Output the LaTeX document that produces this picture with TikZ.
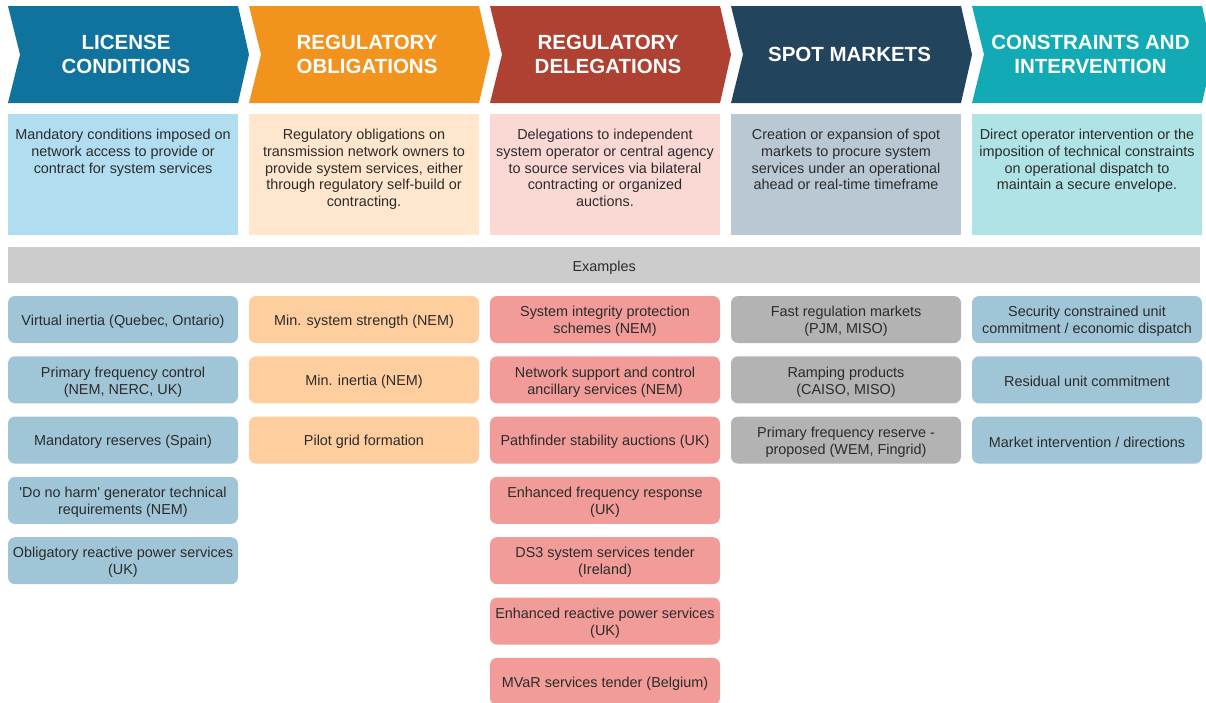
\documentclass[tikz,border=0pt]{standalone}
\usepackage{fontspec}
\setmainfont{Liberation Sans}
\definecolor{hA}{HTML}{10739E}
\definecolor{hB}{HTML}{F2931E}
\definecolor{hC}{HTML}{AE4132}
\definecolor{hD}{HTML}{23445D}
\definecolor{hE}{HTML}{12AAB5}
\definecolor{dA}{HTML}{B1DDF0}
\definecolor{dB}{HTML}{FFE6CC}
\definecolor{dC}{HTML}{FAD9D5}
\definecolor{dD}{HTML}{BAC8D3}
\definecolor{dE}{HTML}{B0E3E6}
\definecolor{eA}{HTML}{A0C5D6}
\definecolor{eB}{HTML}{FFCE9F}
\definecolor{eC}{HTML}{F19C99}
\definecolor{eD}{HTML}{B3B3B3}
\definecolor{bar}{HTML}{CCCCCC}
\definecolor{txt}{HTML}{2B2B2B}
\newcommand\mychev[2]{\fill[#2] (#1,6) -- ({#1+230},6) -- ({#1+241},54.5) -- ({#1+230},103) -- (#1,103) -- ({#1+12},54.5) -- cycle;}
\newcommand\exnode[5]{\node[exbox, fill=#4] (#1) at (#2,#3) {};
  \node[extext] (#1t) at ([yshift=-2pt]#1.center) {#5};}
\tikzset{
 htext/.style={text=white, font=\fontsize{20.5}{24.5}\selectfont\bfseries, align=center, inner sep=0pt},
 dbox/.style={anchor=north west, minimum width=230pt, minimum height=121pt, inner sep=0pt, outer sep=0pt},
 dtext/.style={anchor=north, align=center, inner sep=0pt, text=txt, font=\fontsize{14.4}{16.7}\selectfont},
 exbox/.style={anchor=north west, minimum width=230pt, minimum height=47pt, rounded corners=7pt, inner sep=0pt, outer sep=0pt},
 extext/.style={align=center, inner sep=0pt, text=txt, font=\fontsize{14.4}{17}\selectfont},
}
\begin{document}
\begin{tikzpicture}[x=1pt,y=-1pt]
\useasboundingbox (0,0) rectangle (1206,702);
\clip (0,0) rectangle (1206,702);
\fill[white] (0,0) rectangle (1206,702);
% headers
\mychev{8}{hA}
\mychev{249}{hB}
\mychev{490}{hC}
\mychev{731}{hD}
\mychev{972}{hE}
\node[htext] (h1) at (126,54.5) {LICENSE\\CONDITIONS};
\node[htext] (h2) at (367,54.5) {REGULATORY\\OBLIGATIONS};
\node[htext] (h3) at (608,54.5) {REGULATORY\\DELEGATIONS};
\node[htext] (h4) at (849.5,54.5) {SPOT MARKETS};
\node[htext] (h5) at (1090.5,54.5) {CONSTRAINTS AND\\INTERVENTION};
% descriptions
\node[dbox, fill=dA] (d1) at (8,114) {};
\node[dbox, fill=dB] (d2) at (249,114) {};
\node[dbox, fill=dC] (d3) at (490,114) {};
\node[dbox, fill=dD] (d4) at (731,114) {};
\node[dbox, fill=dE] (d5) at (972,114) {};
\node[dtext] (t1) at (123,129) {Mandatory conditions imposed on\\network access to provide or\\contract for system services};
\node[dtext] (t2) at (364,129) {Regulatory obligations on\\transmission network owners to\\provide system services, either\\through regulatory self-build or\\contracting.};
\node[dtext] (t3) at (605,129) {Delegations to independent\\system operator or central agency\\to source services via bilateral\\contracting or organized\\auctions.};
\node[dtext] (t4) at (846,129) {Creation or expansion of spot\\markets to procure system\\services under an operational\\ahead or real-time timeframe};
\node[dtext] (t5) at (1087,129) {Direct operator intervention or the\\imposition of technical constraints\\on operational dispatch to\\maintain a secure envelope.};
% examples bar
\node[anchor=north west, fill=bar, minimum width=1192pt, minimum height=36pt, inner sep=0pt] (ex) at (8,247) {};
\node[extext] (ext) at ([yshift=-3pt]ex.center) {Examples};
% column 1
\exnode{a1}{8}{296}{eA}{Virtual inertia (Quebec, Ontario)}
\exnode{a2}{8}{356.3}{eA}{Primary frequency control\\(NEM, NERC, UK)}
\exnode{a3}{8}{416.6}{eA}{Mandatory reserves (Spain)}
\exnode{a4}{8}{476.9}{eA}{\textquotesingle Do no harm\textquotesingle\ generator technical\\requirements (NEM)}
\exnode{a5}{8}{537.2}{eA}{Obligatory reactive power services\\(UK)}
% column 2
\exnode{b1}{249}{296}{eB}{Min. system strength (NEM)}
\exnode{b2}{249}{356.3}{eB}{Min. inertia (NEM)}
\exnode{b3}{249}{416.6}{eB}{Pilot grid formation}
% column 3
\exnode{c1}{490}{296}{eC}{System integrity protection\\schemes (NEM)}
\exnode{c2}{490}{356.3}{eC}{Network support and control\\ancillary services (NEM)}
\exnode{c3}{490}{416.6}{eC}{Pathfinder stability auctions (UK)}
\exnode{c4}{490}{476.9}{eC}{Enhanced frequency response\\(UK)}
\exnode{c5}{490}{537.2}{eC}{DS3 system services tender\\(Ireland)}
\exnode{c6}{490}{597.5}{eC}{Enhanced reactive power services\\(UK)}
\exnode{c7}{490}{657.8}{eC}{MVaR services tender (Belgium)}
% column 4
\exnode{e1}{731}{296}{eD}{Fast regulation markets\\(PJM, MISO)}
\exnode{e2}{731}{356.3}{eD}{Ramping products\\(CAISO, MISO)}
\exnode{e3}{731}{416.6}{eD}{Primary frequency reserve -\\proposed (WEM, Fingrid)}
% column 5
\exnode{f1}{972}{296}{eA}{Security constrained unit\\commitment / economic dispatch}
\exnode{f2}{972}{356.3}{eA}{Residual unit commitment}
\exnode{f3}{972}{416.6}{eA}{Market intervention / directions}
\end{tikzpicture}
\end{document}
